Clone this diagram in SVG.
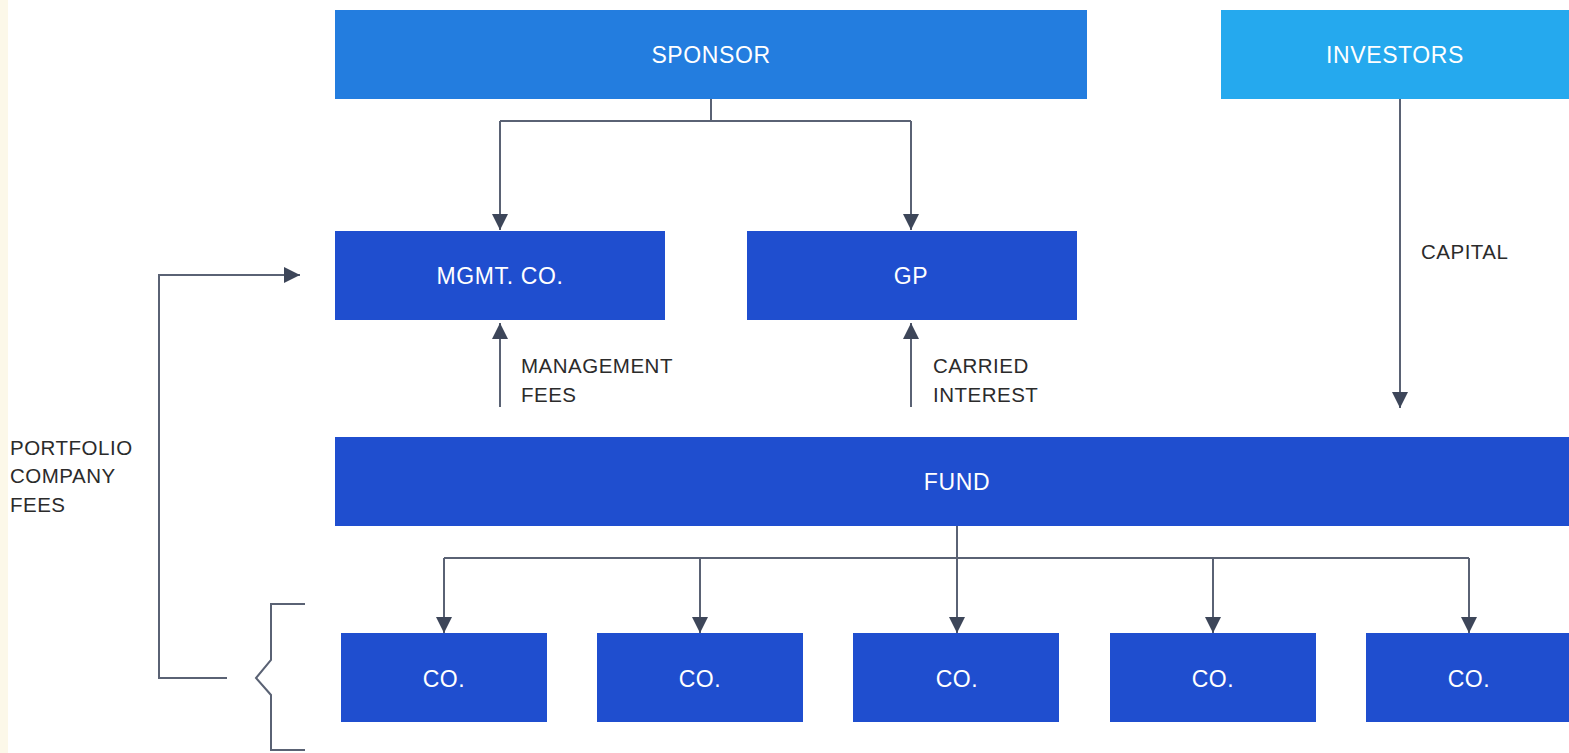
<svg xmlns="http://www.w3.org/2000/svg" width="1569" height="753" viewBox="0 0 1569 753">
<style>
.box{fill:#1f4ecf}
.nt{font-family:"Liberation Sans",Arial,sans-serif;font-size:23px;letter-spacing:0.6px;fill:#ffffff;text-anchor:middle}
.lb{font-family:"Liberation Sans",Arial,sans-serif;font-size:20.5px;letter-spacing:0.5px;fill:#2b2b2b}
.ln{fill:none;stroke:#5a6274;stroke-width:2}
</style>
<defs>
<marker id="ah" markerWidth="18" markerHeight="16" refX="16" refY="8" orient="auto" markerUnits="userSpaceOnUse">
<path d="M0,0 L16,8 L0,16 Z" fill="#3d4659"/>
</marker>
</defs>
<rect x="0" y="0" width="1569" height="753" fill="#ffffff"/>
<rect x="0" y="0" width="8" height="753" fill="#fcf8e9"/>

<g id="connectors">
<path class="ln" d="M711,99 V121 M500,121 H911"/>
<path class="ln" d="M500,121 V230" marker-end="url(#ah)"/>
<path class="ln" d="M911,121 V230" marker-end="url(#ah)"/>
<path class="ln" d="M500,407 V323" marker-end="url(#ah)"/>
<path class="ln" d="M911,407 V323" marker-end="url(#ah)"/>
<path class="ln" d="M1400,99 V408" marker-end="url(#ah)"/>
<path class="ln" d="M957,526 V558 M444,558 H1469"/>
<path class="ln" d="M444,558 V633" marker-end="url(#ah)"/>
<path class="ln" d="M700,558 V633" marker-end="url(#ah)"/>
<path class="ln" d="M957,558 V633" marker-end="url(#ah)"/>
<path class="ln" d="M1213,558 V633" marker-end="url(#ah)"/>
<path class="ln" d="M1469,558 V633" marker-end="url(#ah)"/>
<path class="ln" d="M227,678 H159 V275 H300" marker-end="url(#ah)"/>
<path class="ln" d="M305,604 H271 V660 L256,678 L271,695 V750 H305"/>
</g>

<g id="sponsor">
<rect x="335" y="10" width="752" height="89" fill="#237ddf"/>
<text class="nt" x="711" y="63">SPONSOR</text>
</g>
<g id="investors">
<rect x="1221" y="10" width="348" height="89" fill="#25a9ee"/>
<text class="nt" x="1395" y="63">INVESTORS</text>
</g>
<g id="mgmt">
<rect class="box" x="335" y="231" width="330" height="89"/>
<text class="nt" x="500" y="284">MGMT. CO.</text>
</g>
<g id="gp">
<rect class="box" x="747" y="231" width="330" height="89"/>
<text class="nt" x="911" y="284">GP</text>
</g>
<g id="fund">
<rect class="box" x="335" y="437" width="1234" height="89"/>
<text class="nt" x="957" y="490">FUND</text>
</g>
<g id="co1">
<rect class="box" x="341" y="633" width="206" height="89"/>
<text class="nt" x="444" y="687">CO.</text>
</g>
<g id="co2">
<rect class="box" x="597" y="633" width="206" height="89"/>
<text class="nt" x="700" y="687">CO.</text>
</g>
<g id="co3">
<rect class="box" x="853" y="633" width="206" height="89"/>
<text class="nt" x="957" y="687">CO.</text>
</g>
<g id="co4">
<rect class="box" x="1110" y="633" width="206" height="89"/>
<text class="nt" x="1213" y="687">CO.</text>
</g>
<g id="co5">
<rect class="box" x="1366" y="633" width="203" height="89"/>
<text class="nt" x="1469" y="687">CO.</text>
</g>

<g id="labels">
<text class="lb" x="521" y="373">MANAGEMENT</text>
<text class="lb" x="521" y="402">FEES</text>
<text class="lb" x="933" y="373">CARRIED</text>
<text class="lb" x="933" y="402">INTEREST</text>
<text class="lb" x="1421" y="259">CAPITAL</text>
<text class="lb" x="10" y="455">PORTFOLIO</text>
<text class="lb" x="10" y="483">COMPANY</text>
<text class="lb" x="10" y="512">FEES</text>
</g>
</svg>
